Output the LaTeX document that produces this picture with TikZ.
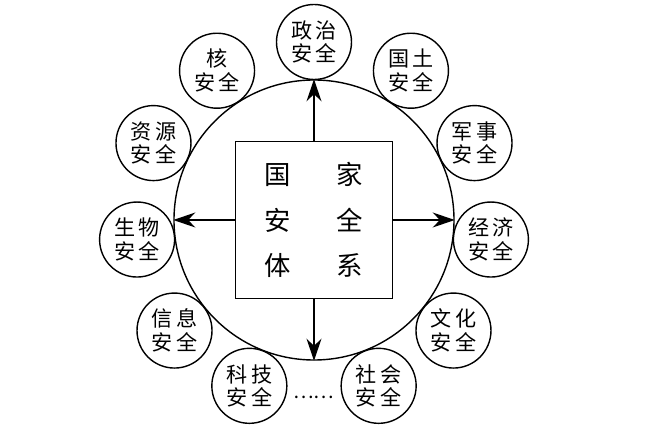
\documentclass[tikz,border=0pt]{standalone}
\usepackage{fontspec}
\newfontfamily\cjk{Noto Sans CJK SC}
\usepackage{tikz}
\usetikzlibrary{arrows.meta,positioning}
\tikzset{
  bigring/.style={draw=black, line width=0.8pt, circle, minimum size=5.6cm, inner sep=0pt},
  corebox/.style={draw=black, line width=0.8pt, minimum size=3.14cm, inner sep=0pt, align=center, font=\cjk\fontsize{15}{26}\selectfont},
  safebox/.style={draw=black, line width=0.8pt, circle, minimum size=1.5cm, inner sep=0pt, align=center, font=\cjk\fontsize{12}{13.5}\selectfont},
  farr/.style={-{Stealth[length=4.4mm,width=3mm]}, line width=0.7pt}
}
\newcommand{\safetxt}[1]{#1\\安\hspace{2pt}全}

\begin{document}
\begin{tikzpicture}
\useasboundingbox (-6.28,-4.32) rectangle (6.68,4.40);
\node[bigring] (ring) at (0,0) {};
\node[corebox] (core) at (0,0) {国\hspace{0.91cm}家\\安\hspace{0.91cm}全\\体\hspace{0.91cm}系};
\node[safebox] (zz) at (90:3.56) {\safetxt{政\hspace{2pt}治}};
\node[safebox] (gt) at (57:3.56) {\safetxt{国\hspace{2pt}土}};
\node[safebox] (he) at (123:3.56) {\safetxt{核}};
\node[safebox] (js) at (25.6:3.56) {\safetxt{军\hspace{2pt}事}};
\node[safebox] (zy) at (154.4:3.56) {\safetxt{资\hspace{2pt}源}};
\node[safebox] (jj) at (-6.3:3.56) {\safetxt{经\hspace{2pt}济}};
\node[safebox] (sw) at (186.3:3.56) {\safetxt{生\hspace{2pt}物}};
\node[safebox] (wh) at (-38.4:3.56) {\safetxt{文\hspace{2pt}化}};
\node[safebox] (xx) at (218.4:3.56) {\safetxt{信\hspace{2pt}息}};
\node[safebox] (sh) at (-68.7:3.56) {\safetxt{社\hspace{2pt}会}};
\node[safebox] (kj) at (248.7:3.56) {\safetxt{科\hspace{2pt}技}};
\node[font=\cjk\fontsize{11}{13}\selectfont] (more) at (0,-3.55) {……};
\draw[farr] (core.north)--(ring.north); \draw[farr] (core.south)--(ring.south);
\draw[farr] (core.west)--(ring.west); \draw[farr] (core.east)--(ring.east);
\end{tikzpicture}
\end{document}
